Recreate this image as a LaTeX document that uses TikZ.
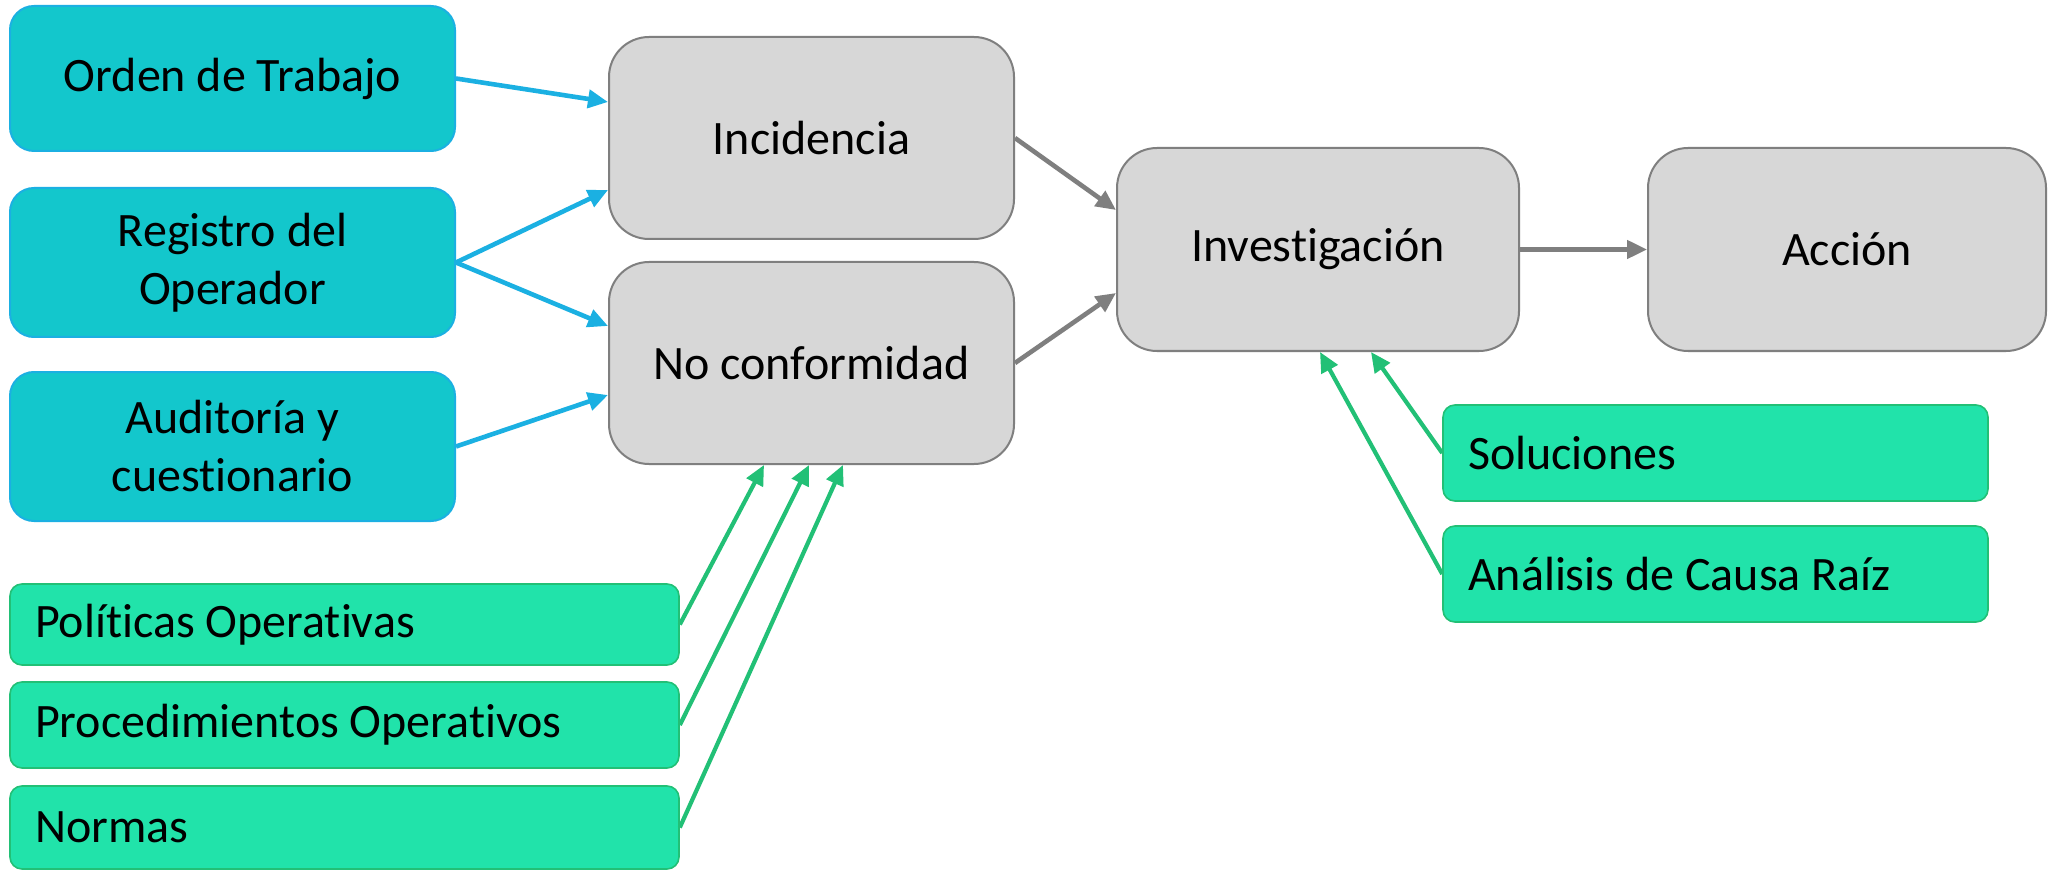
\documentclass[tikz,border=0pt]{standalone}
\usepackage{fontspec}
\setmainfont{Carlito}[Ligatures={NoCommon}]
\usetikzlibrary{arrows.meta,calc}
\definecolor{tealfill}{RGB}{19,199,204}
\definecolor{blueline}{RGB}{27,176,226}
\definecolor{greenfill}{RGB}{33,227,170}
\definecolor{greenline}{RGB}{34,192,118}
\definecolor{grayfill}{RGB}{215,215,215}
\definecolor{grayline}{RGB}{127,127,127}
\tikzset{
  every node/.style={font=\fontsize{24}{29}\selectfont, text=black},
  srcbox/.style={draw=blueline, fill=tealfill, line width=1pt, rounded corners=12pt,
    minimum width=222.5pt, minimum height=74.5pt, align=center, inner sep=0pt},
  procbox/.style={draw=grayline, fill=grayfill, line width=1pt, rounded corners=20pt,
    minimum width=202.5pt, minimum height=101pt, align=center, inner sep=0pt},
  refbox/.style={draw=greenline, fill=greenfill, line width=0.8pt, rounded corners=6pt,
    inner xsep=12.5pt, inner ysep=0pt, align=flush left},
  bluearrow/.style={draw=blueline, line width=2.3pt, -{Triangle[length=10pt,width=9pt]}},
  grayarrow/.style={draw=grayline, line width=2.3pt, -{Triangle[length=10pt,width=9pt]}},
  greenarrow/.style={draw=greenline, line width=2.1pt, -{Triangle[length=10pt,width=9pt]}},
}
\begin{document}
\begin{tikzpicture}[x=0.5pt,y=-0.5pt]
\useasboundingbox[fill=white] (0,0) rectangle (2048,871);

% source boxes
\node[srcbox, minimum height=72.5pt] (orden) at (232.5,78.5) {Orden de Trabajo};
\node[srcbox] (registro) at (232.5,262.5) {Registro del\\Operador};
\node[srcbox] (auditoria) at (232.5,446.5) {Auditoría y\\cuestionario};

% process boxes
\node[procbox] (incidencia) at (811.5,138) {Incidencia};
\node[procbox] (noconf) at (811.5,363) {No conformidad};
\node[procbox, minimum width=201pt, minimum height=101.5pt] (invest) at (1318,249.5) {Investigación};
\node[procbox, minimum width=199pt, minimum height=101.5pt] (accion) at (1847,249.5) {Acción};

% reference boxes
\node[refbox, minimum width=334.5pt, minimum height=40.5pt, text width=309.5pt] (politicas) at (344.5,624.5) {Políticas Operativas};
\node[refbox, minimum width=334.5pt, minimum height=43pt, text width=309.5pt] (procedimientos) at (344.5,725) {Procedimientos Operativos};
\node[refbox, minimum width=334.5pt, minimum height=41.5pt, text width=309.5pt] (normas) at (344.5,827.5) {Normas};
\node[refbox, minimum width=272.5pt, minimum height=48pt, text width=247.5pt] (soluciones) at (1715.5,453) {Soluciones};
\node[refbox, minimum width=272.5pt, minimum height=48pt, text width=247.5pt] (analisis) at (1715.5,574) {Análisis de Causa Raíz};

% blue connectors
\draw[bluearrow] (orden.east) -- ($(incidencia.west)+(0,-36)$);
\draw[bluearrow] (registro.east) -- ($(incidencia.west)+(0,52)$);
\draw[bluearrow] (registro.east) -- ($(noconf.west)+(0,-37)$);
\draw[bluearrow] (auditoria.east) -- ($(noconf.west)+(0,32)$);

% gray connectors
\draw[grayarrow] (incidencia.east) -- ($(invest.west)+(0,-39.5)$);
\draw[grayarrow] (noconf.east) -- ($(invest.west)+(0,43.5)$);
\draw[grayarrow] (invest.east) -- (accion.west);

% green connectors
\draw[greenarrow] (politicas.east) -- ($(noconf.south)+(-47.5,0)$);
\draw[greenarrow] (procedimientos.east) -- ($(noconf.south)+(-2.5,0)$);
\draw[greenarrow] (normas.east) -- ($(noconf.south)+(31.5,0)$);
\draw[greenarrow] (soluciones.west) -- ($(invest.south)+(53,0)$);
\draw[greenarrow] (analisis.west) -- ($(invest.south)+(2,0)$);
\end{tikzpicture}
\end{document}
